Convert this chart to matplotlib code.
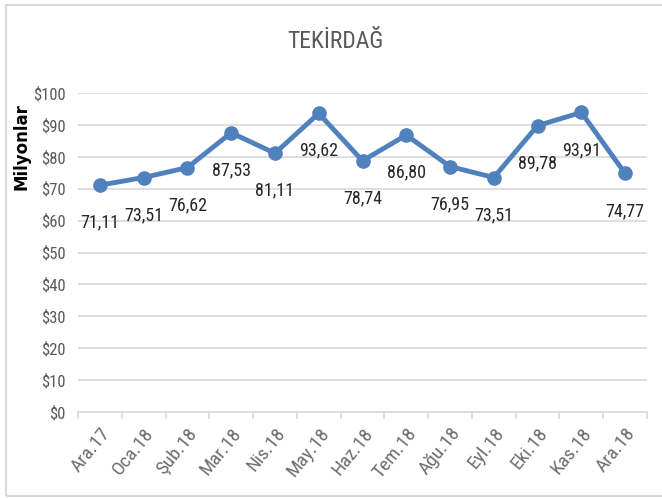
import matplotlib
matplotlib.use("Agg")
import matplotlib.pyplot as plt
from matplotlib.patches import Rectangle
from matplotlib.font_manager import fontManager

names = {f.name for f in fontManager.ttflist}
FONT = [n for n in ['Roboto Condensed', 'Carlito'] if n in names][:1] + ['DejaVu Sans']

title = "TEKİRDAĞ"
ylabel = "Milyonlar"
months = ["Ara.17", "Oca.18", "Şub.18", "Mar.18", "Nis.18", "May.18", "Haz.18",
          "Tem.18", "Ağu.18", "Eyl.18", "Eki.18", "Kas.18", "Ara.18"]
values = [71.11, 73.51, 76.62, 87.53, 81.11, 93.62, 78.74,
          86.80, 76.95, 73.51, 89.78, 93.91, 74.77]
yticks = [0, 10, 20, 30, 40, 50, 60, 70, 80, 90, 100]

GRAY = '#595959'
BLUE = '#4f81bd'
GRID = '#d9d9d9'

fig = plt.figure(figsize=(6.62, 4.98), dpi=100)
fig.patch.set_facecolor('white')
fig.patches.append(Rectangle((6/662, 2/498), 1.2, 491/498, transform=fig.transFigure,
                             fill=False, edgecolor=GRID, lw=1.5, zorder=0))

ax = fig.add_axes([78/662, 1 - 412/498, (647 - 78)/662, (412 - 93)/498])
x = list(range(len(months)))
ax.plot(x, values, color=BLUE, lw=3.5, marker='o', markersize=9.5, zorder=3)

for xi, v in zip(x, values):
    ax.annotate(f"{v:.2f}".replace('.', ','), (xi, v), xytext=(0, -27),
                textcoords='offset points', ha='center', va='center',
                fontsize=13, color='#262626', family=FONT, fontweight='normal')

ax.set_xlim(-0.5, len(months) - 0.5)
ax.set_ylim(0, 100)
ax.set_yticks(yticks)
ax.set_yticklabels([f"${t}" for t in yticks], family=FONT, fontsize=12, color=GRAY)
ax.yaxis.grid(True, color=GRID, lw=1.2)
ax.set_axisbelow(True)
ax.tick_params(axis='y', length=0, pad=9)

ax.set_xticks(x)
ax.set_xticklabels(months, rotation=51, ha='right', rotation_mode='anchor',
                   family=FONT, fontsize=14, color='#6e6e6e')
ax.tick_params(axis='x', which='major', length=0, pad=9)
ax.set_xticks([i - 0.5 for i in range(len(months) + 1)], minor=True)
ax.tick_params(axis='x', which='minor', length=5, color=GRID, width=1.2)

for s in ['top', 'right', 'left']:
    ax.spines[s].set_visible(False)
ax.spines['bottom'].set_color(GRID)
ax.spines['bottom'].set_linewidth(1.2)

fig.text(335/662, 1 - 42/498, title, ha='center', va='center', fontsize=17,
         color=GRAY, family=FONT)
fig.text(22/662, 1 - 147/498, ylabel, ha='center', va='center', rotation=90,
         fontsize=12, fontweight='bold', color='black', family='DejaVu Sans')

fig.savefig('out.png', dpi=100)
